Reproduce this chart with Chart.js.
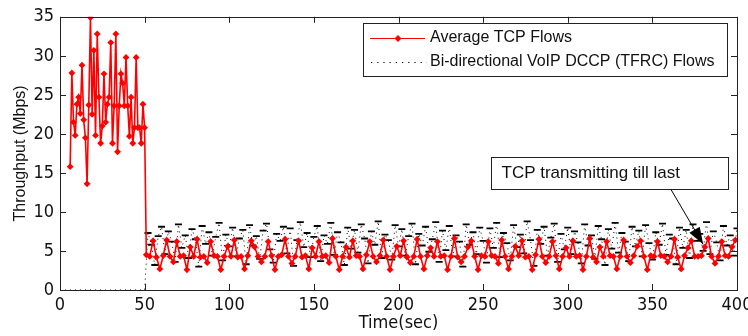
<!DOCTYPE html>
<html>
<head>
<meta charset="utf-8">
<script src="https://cdn.jsdelivr.net/npm/chart.js@4.4.1/dist/chart.umd.min.js"></script>
<style>
  html, body { margin: 0; padding: 0; background: #fff; }
  #wrap { width: 748px; height: 336px; overflow: hidden; }
</style>
</head>
<body>
<div id="wrap"><canvas id="tput" width="760" height="336"></canvas></div>
<script>
// Throughput of TCP vs bi-directional VoIP (DCCP/TFRC) flows

// x / y axis ticks
const xTicks = [0, 50, 100, 150, 200, 250, 300, 350, 400];
const yTicks = [0, 5, 10, 15, 20, 25, 30, 35];

// TCP, first phase: one sample per second from t = 6 s to t = 50 s
const tcpEarlyStart = 6;
const tcpEarly = [
  15.8, 27.8, 21.5, 19.8, 23.8, 24.7, 22.6, 28.8, 21.8, 19.5,
  13.6, 23.7, 34.9, 22.5, 30.7, 19.8, 32.8, 24.7, 18.8, 21.0,
  27.7, 21.5, 23.8, 24.7, 31.7, 18.8, 23.6, 32.8, 17.7, 23.6,
  27.7, 26.5, 23.6, 29.8, 23.6, 19.7, 24.7, 18.8, 20.8, 29.8,
  20.8, 20.8, 18.8, 23.8, 20.8
];

// TCP, second phase: one sample every 2 s from t = 51 s
const tcpLateStart = 51;
const tcpLate = [
  4.5, 4.3, 6.3, 4.2, 2.7, 4.4, 6.4, 4.3, 3.6, 6.2, 4.3, 4.4, 2.6, 5.5, 4.3, 6.5, 4.2, 4.3, 3.5, 6.2, 4.4, 4.3, 2.6, 4.3, 5.6,
  4.3, 6.4, 4.2, 4.3, 2.7, 4.4, 6.3, 5.5, 4.3, 3.6, 4.3, 6.2, 4.4, 2.6, 4.3, 4.5, 6.5, 4.3, 3.4, 4.3, 6.3, 4.2, 4.4, 2.7, 5.4,
  4.3, 6.2, 4.3, 4.4, 3.5, 6.6, 4.3, 2.6, 4.3, 5.5, 4.2, 6.3, 4.4, 4.3, 2.7, 4.5, 6.2, 4.3, 3.6, 4.4, 6.4, 4.3, 2.6, 4.3, 5.6,
  4.4, 6.3, 4.2, 3.5, 4.3, 6.5, 4.3, 2.7, 4.4, 5.4, 4.3, 6.2, 4.3, 4.4, 2.6, 4.3, 6.6, 4.2, 3.6, 4.3, 5.5, 6.3, 4.3, 2.6, 4.4,
  4.3, 6.2, 4.4, 4.3, 3.4, 6.4, 4.3, 2.7, 4.3, 5.6, 4.4, 6.3, 4.2, 4.3, 2.6, 4.5, 6.5, 4.3, 3.5, 4.3, 6.2, 4.4, 2.7, 4.3, 5.4,
  4.3, 6.3, 4.3, 4.4, 2.6, 4.3, 6.6, 4.2, 3.6, 5.5, 4.3, 6.2, 4.4, 4.3, 2.7, 4.3, 6.4, 4.3, 3.5, 4.4, 5.6, 6.3, 4.3, 2.6, 4.4,
  4.3, 6.2, 4.4, 4.3, 3.6, 4.3, 6.5, 4.2, 2.7, 4.4, 5.4, 6.3, 4.3, 4.3, 4.4, 5.5, 6.6, 4.3, 3.4, 4.3, 6.2, 4.4, 4.3, 5.5, 6.4
];

// VoIP: idle until 50 s, then one sample every 2 s from t = 52 s
const voipEarlyTime = [0, 10, 20, 30, 40, 50];
const voipEarly = [0, 0, 0, 0, 0, 0];
const voipLateStart = 52;
const voipLate = [
  7.3, 5.8, 3.2, 6.9, 8.1, 4.6, 7.5, 6.2, 3.6, 8.4, 5.4, 7.0, 4.1, 7.8, 6.5, 3.0, 8.2, 5.9, 7.4, 4.4, 6.8, 8.6, 3.8, 7.1, 5.6,
  8.0, 4.3, 6.6, 7.7, 3.3, 8.3, 5.7, 6.9, 4.0, 7.6, 8.5, 5.2, 3.5, 7.2, 6.3, 8.1, 4.7, 7.9, 3.1, 6.4, 8.7, 5.5, 7.3, 4.2, 6.8,
  8.2, 3.7, 7.0, 5.9, 8.6, 4.5, 7.4, 6.1, 3.2, 8.0, 5.3, 7.7, 4.8, 8.4, 6.6, 3.4, 7.5, 5.8, 8.8, 4.1, 7.1, 6.4, 3.9, 8.3, 5.6,
  7.8, 4.4, 6.9, 8.5, 3.3, 7.2, 5.7, 8.1, 4.9, 6.5, 8.7, 3.6, 7.6, 5.1, 8.2, 4.3, 7.0, 6.2, 3.0, 8.4, 5.8, 7.4, 4.6, 8.0, 6.3,
  3.5, 7.9, 5.4, 8.6, 4.2, 7.3, 6.0, 3.8, 8.3, 5.5, 7.1, 4.7, 8.8, 6.4, 3.1, 7.7, 5.9, 8.1, 4.4, 6.7, 8.5, 3.6, 7.2, 5.2, 8.0,
  4.6, 7.5, 6.1, 3.4, 8.4, 5.7, 7.0, 4.0, 8.2, 6.5, 3.2, 7.8, 5.3, 8.6, 4.8, 7.3, 6.2, 3.7, 8.1, 5.6, 7.6, 4.3, 8.3, 6.0, 3.9,
  7.4, 5.8, 8.5, 4.5, 7.1, 6.6, 3.3, 8.0, 5.4, 7.7, 4.1, 8.4, 6.3, 7.2, 5.0, 8.7, 4.6, 7.5, 6.1, 3.8, 8.2, 5.7, 7.0, 4.4, 7.9
];

// annotation: box corners and arrow in data units
const noteText = 'TCP transmitting till last';
const noteBox = { x0: 254.5, x1: 394.5, y0: 17.1, y1: 13.0 };
const noteArrow = { fromX: 361, toX: 380, toY: 5.85 };

const seriesNames = ['Average TCP Flows', 'Bi-directional VoIP DCCP (TFRC) Flows'];

// build point tables from the arrays above
const tcpPoints = tcpEarly.map((v, i) => ({ x: tcpEarlyStart + i, y: v }))
  .concat(tcpLate.map((v, i) => ({ x: tcpLateStart + 2 * i, y: v })));
const voipPoints = voipEarly.map((v, i) => ({ x: voipEarlyTime[i], y: v }))
  .concat(voipLate.map((v, i) => ({ x: voipLateStart + 2 * i, y: v })));

const sansFont = "'Liberation Sans', Arial, sans-serif";
const narrowFont = "'Liberation Sans Narrow', 'Arial Narrow', 'DejaVu Sans Condensed', sans-serif";

// MATLAB-like box with inward ticks on all four sides
const frameTicks = {
  id: 'frameTicks',
  afterDatasetsDraw(chart) {
    const { ctx, chartArea: a, scales: { x, y } } = chart;
    ctx.save();
    ctx.strokeStyle = '#222';
    ctx.lineWidth = 1;
    ctx.strokeRect(Math.round(a.left) + 0.5, Math.round(a.top) + 0.5,
      Math.round(a.right - a.left), Math.round(a.bottom - a.top));
    ctx.beginPath();
    xTicks.forEach(v => {
      const px = Math.round(x.getPixelForValue(v)) + 0.5;
      ctx.moveTo(px, a.bottom); ctx.lineTo(px, a.bottom - 6);
      ctx.moveTo(px, a.top); ctx.lineTo(px, a.top + 6);
    });
    yTicks.forEach(v => {
      const py = Math.round(y.getPixelForValue(v)) + 0.5;
      ctx.moveTo(a.left, py); ctx.lineTo(a.left + 6, py);
      ctx.moveTo(a.right, py); ctx.lineTo(a.right - 6, py);
    });
    ctx.stroke();
    ctx.restore();
  }
};

// legend box and the text annotation with its arrow
const legendAndNote = {
  id: 'legendAndNote',
  afterDraw(chart) {
    const { ctx, scales: { x, y } } = chart;
    ctx.save();

    // legend
    const lx = 363, ly = 23, lw = 364, lh = 53;
    ctx.fillStyle = '#fff';
    ctx.fillRect(lx, ly, lw, lh);
    ctx.strokeStyle = '#222';
    ctx.lineWidth = 1;
    ctx.strokeRect(lx + 0.5, ly + 0.5, lw, lh);

    ctx.strokeStyle = '#ff0000';
    ctx.lineWidth = 1.2;
    ctx.beginPath(); ctx.moveTo(370, 38.5); ctx.lineTo(425, 38.5); ctx.stroke();
    ctx.fillStyle = '#ff0000';
    ctx.beginPath();
    ctx.moveTo(398, 35); ctx.lineTo(401.5, 38.5); ctx.lineTo(398, 42); ctx.lineTo(394.5, 38.5);
    ctx.closePath(); ctx.fill();

    ctx.strokeStyle = '#000';
    ctx.lineWidth = 1.2;
    ctx.setLineDash([1.2, 5]);
    ctx.beginPath(); ctx.moveTo(371, 62.5); ctx.lineTo(427, 62.5); ctx.stroke();
    ctx.setLineDash([]);

    ctx.fillStyle = '#111';
    ctx.font = '16px ' + sansFont;
    ctx.textBaseline = 'middle';
    ctx.fillText(seriesNames[0], 430, 38);
    ctx.fillText(seriesNames[1], 430, 62);

    // annotation box
    const bx0 = Math.round(x.getPixelForValue(noteBox.x0)) + 0.5;
    const bx1 = Math.round(x.getPixelForValue(noteBox.x1)) + 0.5;
    const by0 = Math.round(y.getPixelForValue(noteBox.y0)) + 0.5;
    const by1 = Math.round(y.getPixelForValue(noteBox.y1)) + 0.5;
    ctx.fillStyle = '#fff';
    ctx.fillRect(bx0, by0, bx1 - bx0, by1 - by0);
    ctx.strokeStyle = '#222';
    ctx.lineWidth = 1;
    ctx.strokeRect(bx0, by0, bx1 - bx0, by1 - by0);
    ctx.fillStyle = '#111';
    ctx.font = '17px ' + sansFont;
    ctx.fillText(noteText, bx0 + 10, (by0 + by1) / 2);

    // arrow
    const ax0 = x.getPixelForValue(noteArrow.fromX), ay0 = by1;
    const ax1 = x.getPixelForValue(noteArrow.toX), ay1 = y.getPixelForValue(noteArrow.toY);
    const ang = Math.atan2(ay1 - ay0, ax1 - ax0);
    ctx.strokeStyle = '#000';
    ctx.beginPath(); ctx.moveTo(ax0, ay0); ctx.lineTo(ax1, ay1); ctx.stroke();
    ctx.fillStyle = '#000';
    ctx.beginPath();
    ctx.moveTo(ax1, ay1);
    ctx.lineTo(ax1 - 17 * Math.cos(ang) + 6 * Math.sin(ang), ay1 - 17 * Math.sin(ang) - 6 * Math.cos(ang));
    ctx.lineTo(ax1 - 17 * Math.cos(ang) - 6 * Math.sin(ang), ay1 - 17 * Math.sin(ang) + 6 * Math.cos(ang));
    ctx.closePath(); ctx.fill();

    ctx.restore();
  }
};

new Chart(document.getElementById('tput').getContext('2d'), {
  type: 'line',
  data: {
    datasets: [
      {
        label: seriesNames[0],
        data: tcpPoints,
        borderColor: '#ff0000',
        backgroundColor: '#ff0000',
        borderWidth: 1.6,
        pointStyle: 'rectRot',
        pointRadius: 3.4,
        pointBorderWidth: 0,
        tension: 0,
        order: 0
      },
      {
        label: seriesNames[1],
        data: voipPoints,
        borderColor: '#000',
        backgroundColor: '#000',
        borderWidth: 1,
        borderDash: [1, 4],
        pointStyle: 'line',
        pointRadius: voipPoints.map(p => (p.x <= 50 ? 0 : 3.5)),
        pointBorderColor: '#000',
        pointBorderWidth: 1.8,
        tension: 0,
        order: 1
      }
    ]
  },
  options: {
    responsive: false,
    animation: false,
    events: [],
    layout: { padding: { left: 0, top: 14, right: 23, bottom: 0 } },
    plugins: {
      legend: { display: false },
      tooltip: { enabled: false }
    },
    scales: {
      x: {
        type: 'linear',
        min: 0,
        max: 400,
        afterBuildTicks: s => { s.ticks = xTicks.map(v => ({ value: v })); },
        afterFit: s => { s.height = 46; },
        grid: { display: false, drawTicks: false },
        border: { display: false },
        ticks: { color: '#111', padding: 5, maxRotation: 0, font: { family: narrowFont, size: 18 } },
        title: { display: true, text: 'Time(sec)', color: '#111', padding: { top: 0, bottom: 2 }, font: { family: narrowFont, size: 18 } }
      },
      y: {
        min: 0,
        max: 35,
        afterBuildTicks: s => { s.ticks = yTicks.map(v => ({ value: v })); },
        afterFit: s => { s.width = 60; },
        grid: { display: false, drawTicks: false },
        border: { display: false },
        ticks: { color: '#111', padding: 6, font: { family: narrowFont, size: 18 } },
        title: { display: true, text: 'Throughput (Mbps)', color: '#111', padding: { top: 11, bottom: 0 }, font: { family: sansFont, size: 16 } }
      }
    }
  },
  plugins: [frameTicks, legendAndNote]
});
</script>
</body>
</html>
